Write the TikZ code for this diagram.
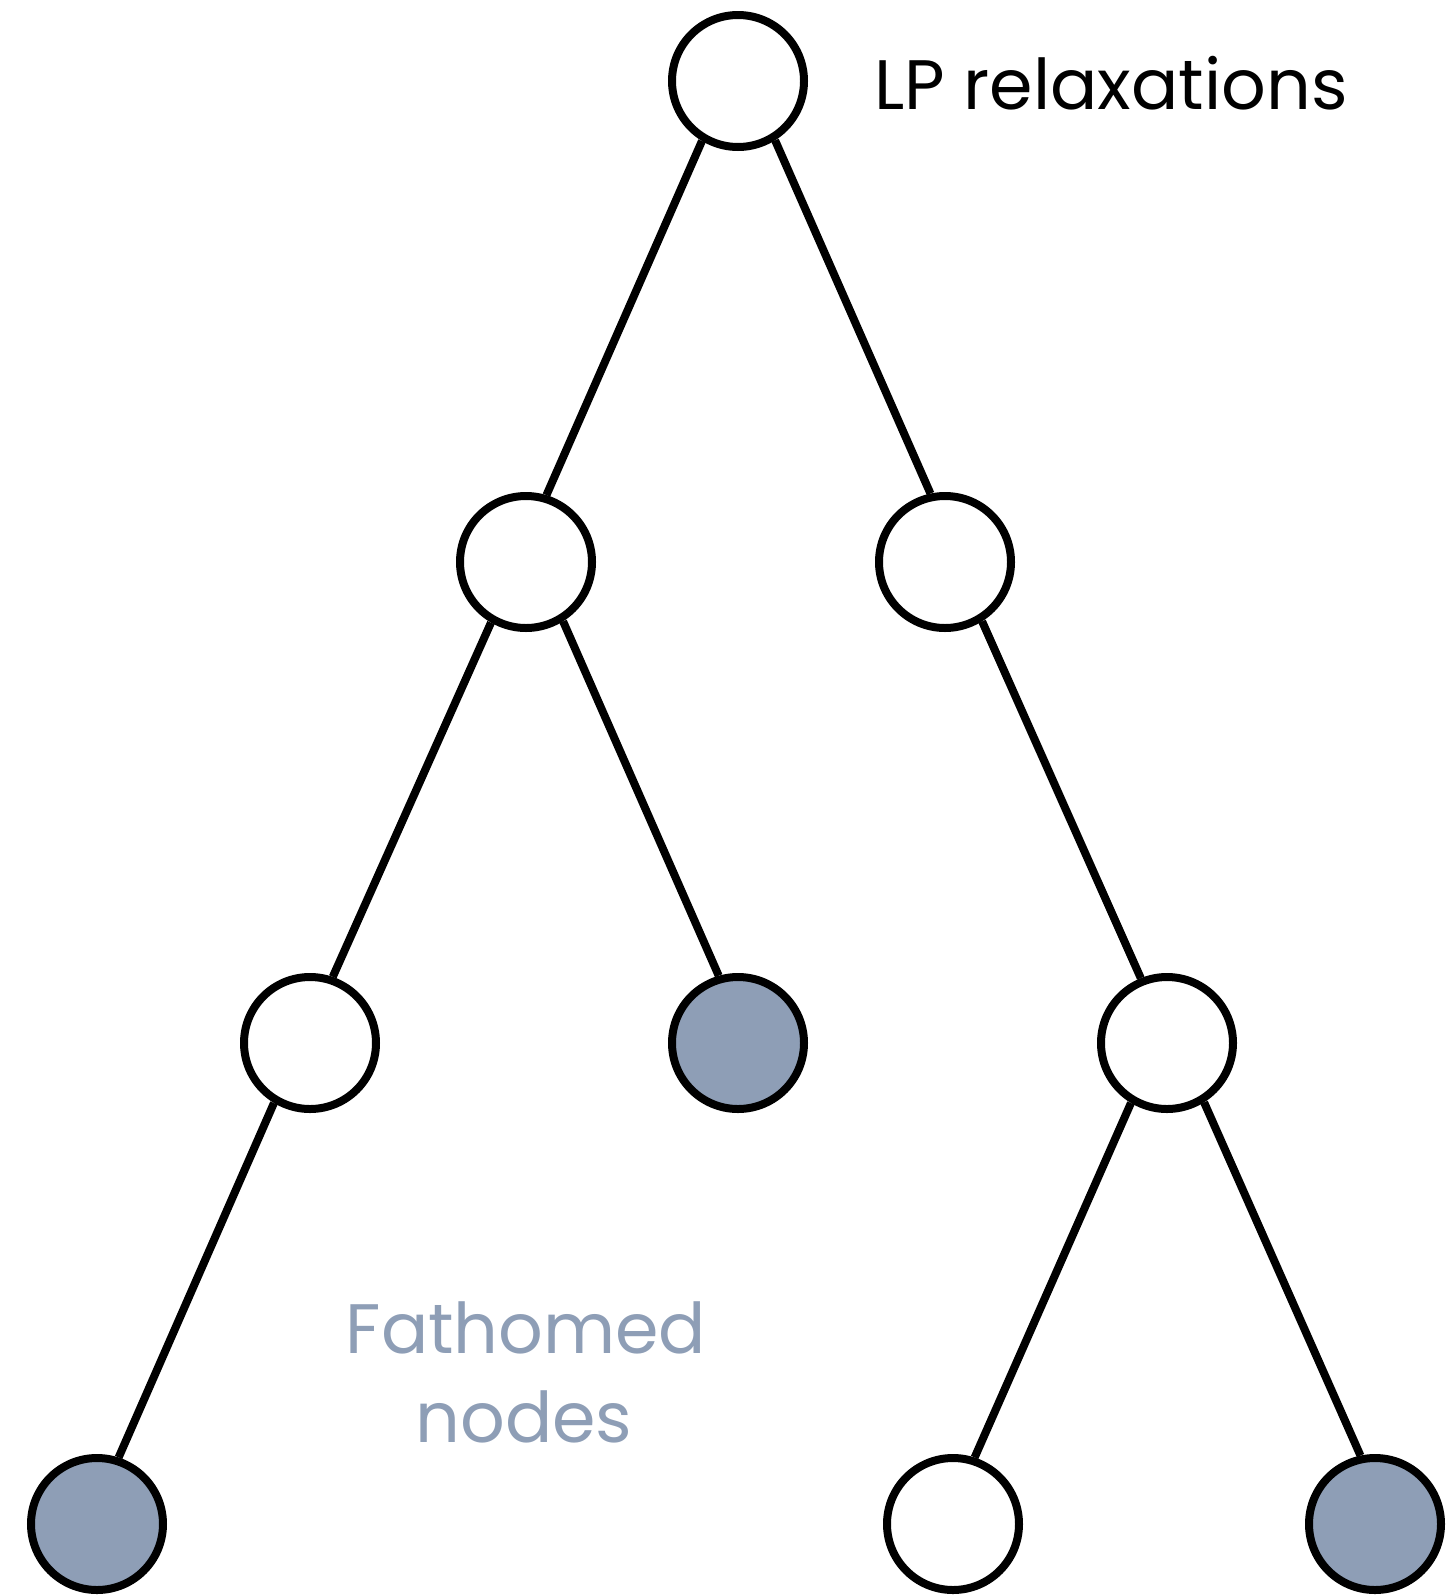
\documentclass[tikz,border=0pt]{standalone}
\usepackage{fontspec}
\setmainfont{Poppins}
\definecolor{fathom}{HTML}{8E9EB6}
\begin{document}
\begin{tikzpicture}[x=0.5pt,y=-0.5pt,
  tnode/.style={circle,draw=black,line width=4pt,fill=white,minimum size=66pt,inner sep=0pt},
  fnode/.style={tnode,fill=fathom},
  edge/.style={line width=4pt,draw=black},
  lbl/.style={font=\fontsize{35}{42}\selectfont,inner sep=0pt}]
\useasboundingbox (0,0) rectangle (1450,1596);

% tree nodes, level by level
\node[tnode] (r)   at (738,81)   {};
\node[tnode] (a)   at (526,562)  {};
\node[tnode] (b)   at (945,562)  {};
\node[tnode] (aa)  at (310,1043) {};
\node[fnode] (ab)  at (738,1043) {};
\node[tnode] (ba)  at (1167,1043){};
\node[fnode] (aaa) at (97,1524)  {};
\node[tnode] (baa) at (953,1524) {};
\node[fnode] (bab) at (1375,1524){};

% branches, leaving the parent low on its side and entering the child near the top
\draw[edge] (r.239)  -- (a.73);
\draw[edge] (r.302)  -- (b.102);
\draw[edge] (a.240)  -- (aa.71);
\draw[edge] (a.302)  -- (ab.106);
\draw[edge] (b.302)  -- (ba.112);
\draw[edge] (aa.239) -- (aaa.72);
\draw[edge] (ba.239) -- (baa.72);
\draw[edge] (ba.302) -- (bab.102);

% labels
\node[lbl,anchor=base] (lp) at (1111,109) {LP relaxations};
\node[lbl,anchor=base,text=fathom] (f1) at (526,1353) {Fathomed};
\node[lbl,anchor=base,text=fathom] (f2) at (524,1442) {nodes};
\end{tikzpicture}
\end{document}
